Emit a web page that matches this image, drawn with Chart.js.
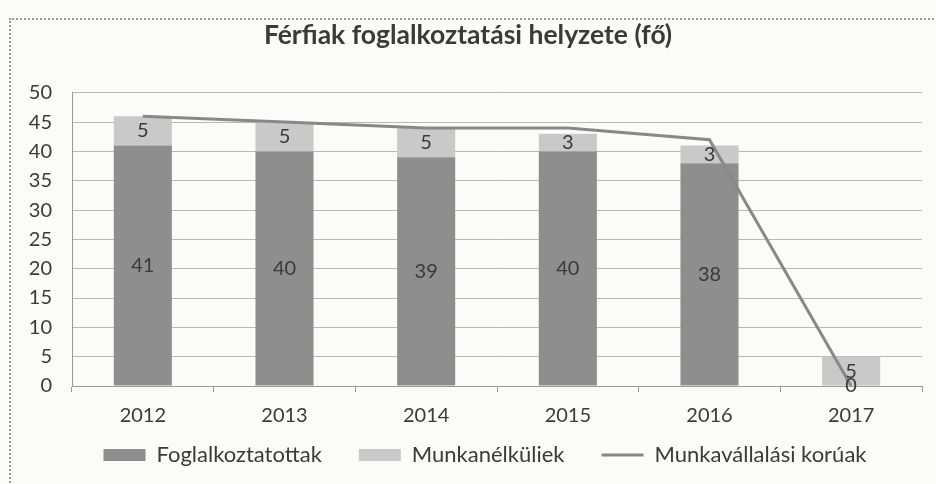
<!DOCTYPE html>
<html>
<head>
<meta charset="utf-8">
<script src="https://cdn.jsdelivr.net/npm/chart.js@4/dist/chart.umd.min.js"></script>
<style>
  html, body { margin: 0; padding: 0; background: #fbfbfa; }
  #wrap { position: relative; width: 936px; height: 484px; }
  #frame { position: absolute; left: 9px; top: 18px; right: -10px; bottom: -10px;
           border-top: 2px dotted #9a9a9a; border-left: 2px dotted #9a9a9a; }
  canvas { position: absolute; left: 0; top: 0; }
</style>
</head>
<body>
<div id="wrap">
  <div id="frame"></div>
  <canvas id="chart" width="936" height="484"></canvas>
</div>
<script>
const years = ['2012', '2013', '2014', '2015', '2016', '2017'];
const employed = [41, 40, 39, 40, 38, 0];
const unemployed = [5, 5, 5, 3, 3, 5];
const workingAge = [46, 45, 44, 44, 42, 0];
const yTicks = [0, 5, 10, 15, 20, 25, 30, 35, 40, 45, 50];

const fontName = 'Lato, "Open Sans", sans-serif';
const textColor = '#3a3a3a';

const barLabels = {
  id: 'barLabels',
  afterInit(chart) {
    // legend: short box, items drawn a bit higher and right of centre
    const lg = chart.legend;
    const fit = lg.fit;
    lg.fit = function () {
      fit.call(this);
      this.height = 32;
    };
    const draw = lg.draw;
    lg.draw = function () {
      const t = this.top, l = this.left, r = this.right;
      this.top = 455 - 37 - 11;
      this.left = l + 17;
      this.right = r + 17;
      draw.call(this);
      this.top = t;
      this.left = l;
      this.right = r;
    };
  },
  // value labels in the middle of each bar piece
  afterDatasetsDraw(chart) {
    const ctx = chart.ctx;
    ctx.save();
    ctx.font = '20px ' + fontName;
    ctx.fillStyle = textColor;
    ctx.textAlign = 'center';
    ctx.textBaseline = 'middle';
    chart.data.datasets.forEach((ds, i) => {
      if (ds.type !== 'bar') return;
      const meta = chart.getDatasetMeta(i);
      meta.data.forEach((bar, j) => {
        const y = (bar.y + bar.base) / 2;
        ctx.fillText(String(ds.data[j]), bar.x, y);
      });
    });
    ctx.restore();
  }
};

const chart = new Chart(document.getElementById('chart'), {
  data: {
    labels: years,
    datasets: [
      {
        type: 'bar',
        label: 'Foglalkoztatottak',
        data: employed,
        backgroundColor: '#8e8e8e',
        stack: 'a',
        order: 1,
        barPercentage: 0.41,
        categoryPercentage: 1,
      },
      {
        type: 'bar',
        label: 'Munkanélküliek',
        data: unemployed,
        backgroundColor: '#c9c9c9',
        stack: 'a',
        order: 1,
        barPercentage: 0.41,
        categoryPercentage: 1,
      },
      {
        type: 'line',
        label: 'Munkavállalási korúak',
        data: workingAge,
        borderColor: '#888888',
        backgroundColor: '#888888',
        borderWidth: 3,
        pointRadius: 0,
        tension: 0,
        stack: 'line',
        order: 0,
      },
    ],
  },
  options: {
    responsive: false,
    animation: false,
    layout: { padding: { left: 14, right: 14, top: 14, bottom: 12 } },
    plugins: {
      tooltip: { enabled: false },
      title: {
        display: true,
        text: 'Férfiak foglalkoztatási helyzete (fő)',
        color: textColor,
        font: { family: fontName, size: 26.5, weight: 'bold' },
        padding: { top: 6, bottom: 41 },
      },
      legend: {
        position: 'bottom',
        labels: {
          color: textColor,
          font: { family: fontName, size: 22 },
          usePointStyle: true,
          pointStyleWidth: 42,
          boxHeight: 12,
          padding: 37,
          generateLabels(chart) {
            return chart.data.datasets.map((ds, i) => ({
              text: ds.label,
              datasetIndex: i,
              fillStyle: ds.type === 'line' ? 'rgba(0,0,0,0)' : ds.backgroundColor,
              strokeStyle: ds.type === 'line' ? ds.borderColor : ds.backgroundColor,
              lineWidth: ds.type === 'line' ? 3 : 0,
              pointStyle: ds.type === 'line' ? 'line' : 'rect',
              fontColor: textColor,
              hidden: false,
            }));
          },
        },
      },
    },
    scales: {
      x: {
        stacked: true,
        offset: true,
        grid: {
          display: true,
          offset: true,
          drawOnChartArea: false,
          drawTicks: true,
          tickLength: 6,
          color: '#9a9a9a',
        },
        border: { color: '#9a9a9a', width: 1 },
        ticks: {
          color: textColor,
          font: { family: fontName, size: 20 },
          padding: 12,
        },
      },
      y: {
        stacked: true,
        min: 0,
        max: 50,
        afterBuildTicks(scale) {
          scale.ticks = yTicks.map(v => ({ value: v }));
        },
        afterFit(scale) {
          scale.width = 58;
        },
        grid: { color: '#b8b8b8', drawTicks: false },
        border: { color: '#9a9a9a', width: 1 },
        ticks: {
          color: textColor,
          font: { family: fontName, size: 20 },
          padding: 20,
        },
      },
    },
  },
  plugins: [barLabels],
});
</script>
</body>
</html>
